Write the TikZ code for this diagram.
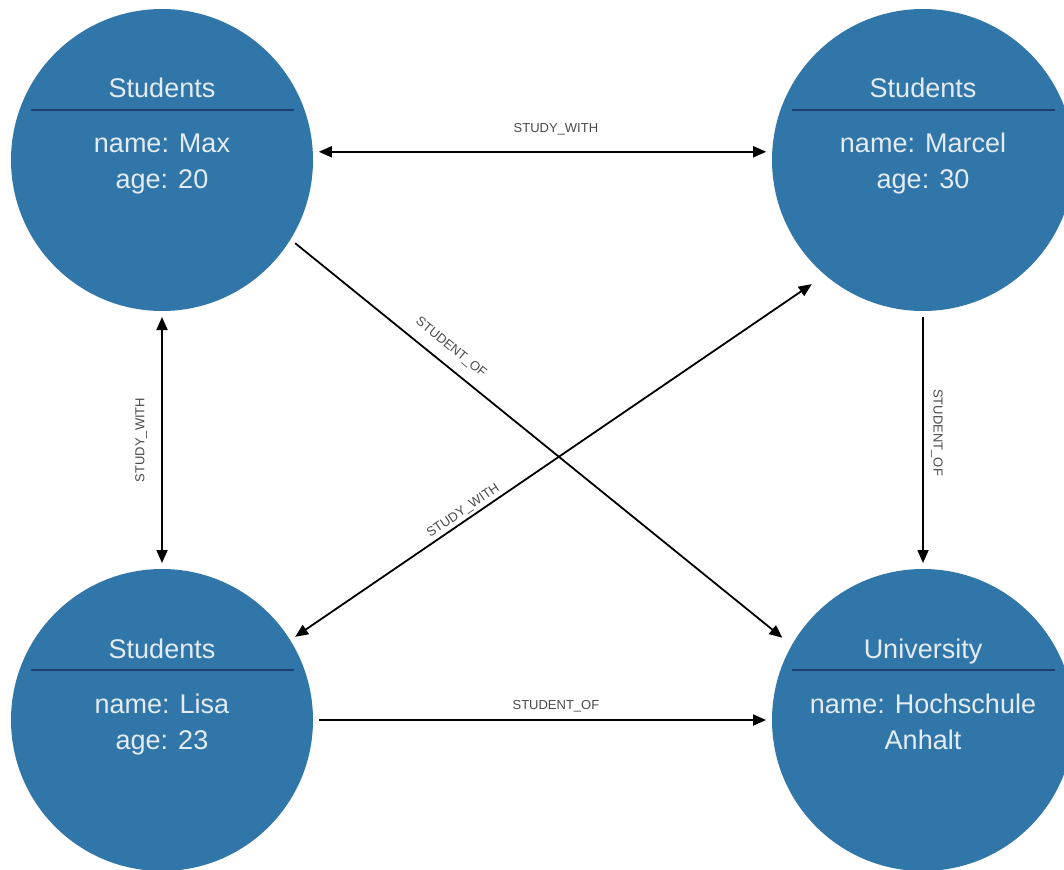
\documentclass[tikz,border=0pt]{standalone}
\usepackage{fontspec}
\setmainfont{Liberation Sans}
\usetikzlibrary{arrows.meta}

\definecolor{nodeblue}{HTML}{3176A9}
\definecolor{rulenavy}{HTML}{1C416A}
\definecolor{nodetext}{HTML}{E4ECF3}
\definecolor{edgetext}{HTML}{4A4A4A}

% one entity: circle, title, divider and two property lines
% #1 name, #2 x, #3 y, #4 title, #5 first line, #6 second line
\newcommand\drawentity[6]{%
  \node[entity] (#1) at (#2,#3) {};
  \node[entitytext] (#1-title) at (#2,#3-62) {#4};
  \draw[divider] (#2-131,#3-50) -- (#2+132,#3-50);
  \node[entitytext] (#1-one) at (#2,#3-7) {#5};
  \node[entitytext] (#1-two) at (#2,#3+29) {#6};
}

\begin{document}
\begin{tikzpicture}[x=1pt,y=-1pt,
  entity/.style={circle, fill=nodeblue, minimum size=302pt, inner sep=0pt, outer sep=6pt},
  entitytext/.style={text=nodetext, font=\fontsize{27}{32}\selectfont, anchor=base, inner sep=0pt},
  divider/.style={draw=rulenavy, line width=2pt},
  tip/.tip={Triangle[length=13pt,width=11pt]},
  rel/.style={line width=1.8pt, draw=black, -tip},
  relboth/.style={line width=1.8pt, draw=black, tip-tip},
  rellabel/.style={text=edgetext, font=\fontsize{13}{15}\selectfont, inner sep=0pt},
]
\useasboundingbox (0,0) rectangle (1064,869);

\drawentity{max}{162}{160}{Students}{name: Max}{age: 20}
\drawentity{marcel}{923}{160}{Students}{name: Marcel}{age: 30}
\drawentity{lisa}{162}{720}{Students}{name: Lisa}{age: 23}
\drawentity{univ}{923}{720}{University}{name: Hochschule}{Anhalt}

% relationships
\draw[relboth] (max.3) -- node[rellabel, pos=0.53, anchor=south, outer sep=17pt] {STUDY\_WITH} (marcel.177);
\draw[rel, shorten >=6pt] (max.-32) -- node[rellabel, pos=0.295, sloped, anchor=south, outer sep=11pt] {STUDENT\_OF} (univ.150);
\draw[relboth, shorten >=10pt] (lisa.32) -- node[rellabel, pos=0.33, sloped, anchor=south, outer sep=3pt] {STUDY\_WITH} (marcel.229);
\draw[relboth] (max.south) -- node[rellabel, midway, rotate=90, anchor=south, outer sep=15pt] {STUDY\_WITH} (lisa.north);
\draw[rel] (marcel.south) -- node[rellabel, pos=0.47, rotate=-90, anchor=south, outer sep=8pt] {STUDENT\_OF} (univ.north);
\draw[rel] (lisa.east) -- node[rellabel, pos=0.53, anchor=south, outer sep=8pt] {STUDENT\_OF} (univ.west);
\end{tikzpicture}
\end{document}
